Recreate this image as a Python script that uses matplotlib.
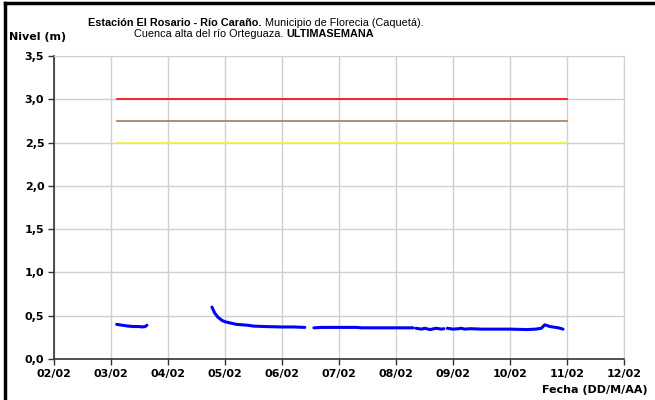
import numpy as np
import matplotlib.pyplot as plt
from matplotlib.lines import Line2D

plt.rcParams['font.family'] = ['Liberation Sans', 'DejaVu Sans']

# dia del mes (febrero) y nivel en metros; nan = sin dato
dias = [3.1, 3.2, 3.3, 3.4, 3.5, 3.55, 3.6, 3.63, np.nan,
        4.77, 4.82, 4.88, 4.95, 5.0, 5.1, 5.2, 5.4, 5.5, 5.7, 6.0, 6.2, 6.40, np.nan,
        6.56, 6.7, 7.0, 7.3, 7.4, 8.0, 8.30, np.nan,
        8.35, 8.45, 8.5, 8.6, 8.7, 8.8, 8.84, np.nan,
        8.9, 9.0, 9.1, 9.15, 9.2, 9.3, 9.5, 10.0, 10.3, 10.45, 10.55, 10.61, 10.7, 10.85, 10.93]
nivel = [0.40, 0.39, 0.38, 0.375, 0.375, 0.37, 0.375, 0.39, np.nan,
         0.60, 0.53, 0.48, 0.445, 0.43, 0.415, 0.40, 0.39, 0.38, 0.375, 0.37, 0.37, 0.365, np.nan,
         0.36, 0.365, 0.365, 0.365, 0.36, 0.36, 0.36, np.nan,
         0.355, 0.345, 0.355, 0.34, 0.355, 0.345, 0.35, np.nan,
         0.355, 0.345, 0.35, 0.355, 0.345, 0.35, 0.345, 0.345, 0.34, 0.345, 0.355, 0.395, 0.375, 0.36, 0.345]

# umbrales de alerta
umbral_x = [3.1, 11.0]
umbral_rojo = 3.0
umbral_naranja = 2.75
umbral_amarillo = 2.5

ticks_x = [2, 3, 4, 5, 6, 7, 8, 9, 10, 11, 12]
etiquetas_x = ['02/02', '03/02', '04/02', '05/02', '06/02', '07/02', '08/02', '09/02', '10/02', '11/02', '12/02']
ticks_y = [0, 0.5, 1.0, 1.5, 2.0, 2.5, 3.0, 3.5]
etiquetas_y = ['0,0', '0,5', '1,0', '1,5', '2,0', '2,5', '3,0', '3,5']

fuente_ejes = dict(family='DejaVu Sans', fontsize=8, fontweight='bold')

fig = plt.figure(figsize=(6.55, 4.0), dpi=100)
ax = fig.add_axes([54 / 655, 1 - 359 / 400, 570 / 655, 303 / 400])

ax.plot(umbral_x, [umbral_rojo] * 2, color='#FF0000', lw=1.2)
ax.plot(umbral_x, [umbral_naranja] * 2, color='#A57B5B', lw=1.2)
ax.plot(umbral_x, [umbral_amarillo] * 2, color='#F2F230', lw=1.2)
ax.plot(dias, nivel, color='#0000FF', lw=2.2, solid_capstyle='round')

ax.set_xlim(2, 12)
ax.set_ylim(0, 3.5)
ax.set_xticks(ticks_x)
ax.set_xticklabels(etiquetas_x, **fuente_ejes)
ax.set_yticks(ticks_y)
ax.set_yticklabels(etiquetas_y, **fuente_ejes)
ax.grid(True, color='#D0D0D0', lw=1)
ax.set_axisbelow(True)
for s in ['top', 'right']:
    ax.spines[s].set_color('#D0D0D0')
ax.spines['left'].set_color('#333333')
ax.spines['bottom'].set_color('#333333')
ax.spines['left'].set_linewidth(1.2)
ax.spines['bottom'].set_linewidth(1.2)
ax.tick_params(axis='both', length=4, width=1, color='#333333', pad=3)

# titulo con partes en negrita
fig.canvas.draw()
r = fig.canvas.get_renderer()


def linea_titulo(partes, y, xc):
    txts = []
    for texto, peso in partes:
        txts.append(fig.text(0, y, texto, fontsize=7.8, fontweight=peso, va='baseline'))
    anchos = [t.get_window_extent(r).width for t in txts]
    x = xc - sum(anchos) / 2
    for t, w in zip(txts, anchos):
        t.set_x(x / 655)
        x += w


linea_titulo([('Estación El Rosario - Río Caraño.', 'bold'),
              (' Municipio de Florecia (Caquetá).', 'normal')], 1 - 26.5 / 400, 256)
linea_titulo([('Cuenca alta del río Orteguaza. ', 'normal'),
              ('ULTIMASEMANA', 'bold')], 1 - 37 / 400, 254)

fig.text(9 / 655, 1 - 40 / 400, 'Nivel (m)', va='baseline', **fuente_ejes)
fig.text(648 / 655, 1 - 393 / 400, 'Fecha (DD/M/AA)', ha='right', va='baseline', **fuente_ejes)

# marco de la figura (solo arriba e izquierda)
fig.add_artist(Line2D([5 / 655, 1], [1 - 3 / 400, 1 - 3 / 400], color='black', lw=2.5,
                      transform=fig.transFigure))
fig.add_artist(Line2D([5 / 655, 5 / 655], [0, 1 - 3 / 400], color='black', lw=2.5,
                      transform=fig.transFigure))

fig.savefig('out.png', dpi=100)
